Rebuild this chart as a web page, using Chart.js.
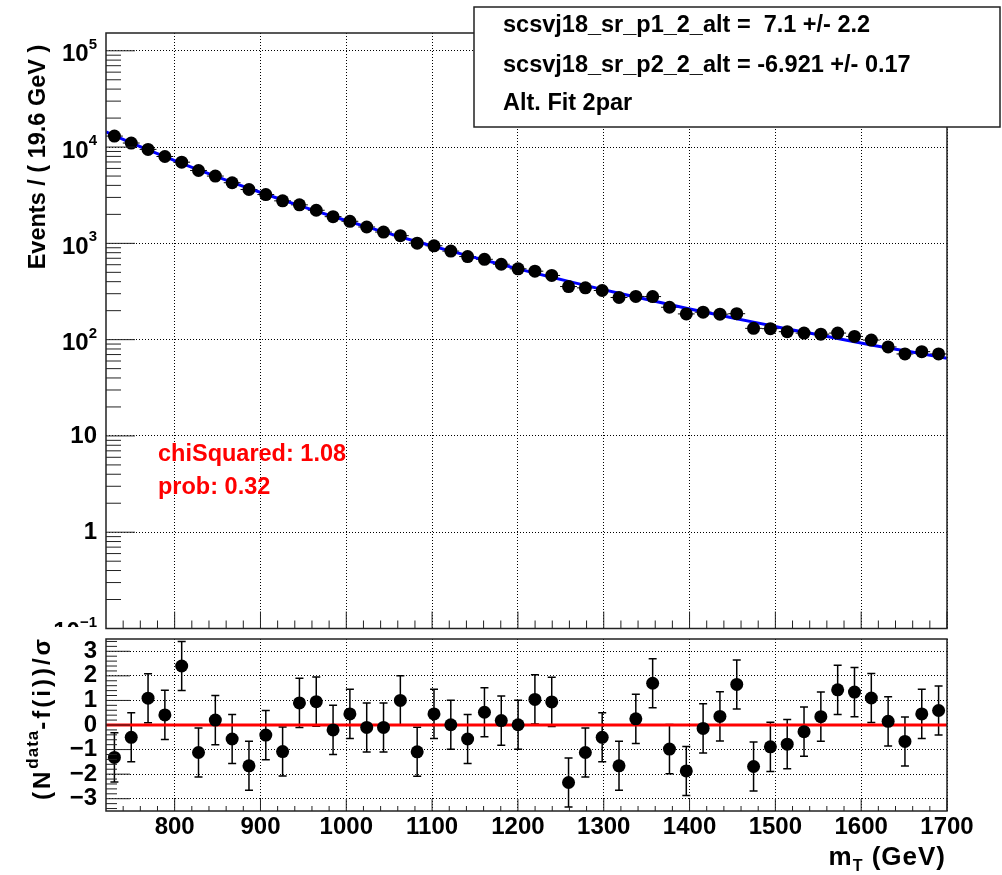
<!DOCTYPE html>
<html>
<head>
<meta charset="utf-8">
<script src="https://cdn.jsdelivr.net/npm/chart.js@4.4.1/dist/chart.umd.min.js"></script>
<style>
  body { margin: 0; background: #fff; }
  #wrap { position: relative; width: 1002px; height: 875px; }
  #wrap canvas { position: absolute; left: 0; top: 0; }
</style>
</head>
<body>
<div id="wrap">
  <canvas id="fitChart" width="1002" height="875"></canvas>
  <canvas id="pullChart" width="1002" height="875"></canvas>
</div>
<script>
// bin centres of m_T (GeV), 19.6 GeV bins from 720 to 1700
const binCenters = [729.8, 749.4, 769.0, 788.6, 808.2, 827.8, 847.4, 867.0, 886.6, 906.2,
  925.8, 945.4, 965.0, 984.6, 1004.2, 1023.8, 1043.4, 1063.0, 1082.6, 1102.2,
  1121.8, 1141.4, 1161.0, 1180.6, 1200.2, 1219.8, 1239.4, 1259.0, 1278.6, 1298.2,
  1317.8, 1337.4, 1357.0, 1376.6, 1396.2, 1415.8, 1435.4, 1455.0, 1474.6, 1494.2,
  1513.8, 1533.4, 1553.0, 1572.6, 1592.2, 1611.8, 1631.4, 1651.0, 1670.6, 1690.2];

// events per bin
const events = [12999, 11011, 9457, 7978, 6969, 5714, 4998, 4263, 3623, 3213,
  2763, 2511, 2206, 1893, 1695, 1479, 1311, 1202, 1005, 943,
  831, 729, 683, 607, 544, 514, 464, 356, 345, 324,
  274, 281, 280, 217, 185, 193, 184, 186, 131, 130,
  121, 117, 114, 117, 108, 99, 84, 71, 75, 71];
const eventErrors = [114, 105, 97, 89, 83, 76, 71, 65, 60, 57,
  53, 50, 47, 44, 41, 38, 36, 35, 32, 31,
  29, 27, 26, 25, 23, 23, 22, 19, 19, 18,
  17, 17, 17, 15, 14, 14, 14, 14, 11, 11,
  11, 11, 11, 11, 10, 10, 9, 8, 9, 8];

// fit curve (blue)
const fitMass = [720, ...binCenters, 1700];
const fitValues = [14360, 13150, 11064, 9352, 7941, 6771, 5799, 4984, 4300, 3724, 3236,
  2820, 2466, 2162, 1902, 1677, 1483, 1315, 1168, 1040, 929,
  831, 745, 669, 603, 543, 491, 445, 403, 366, 333,
  303, 277, 253, 232, 212, 195, 179, 165, 152, 140,
  129, 120, 111, 103, 95, 88, 82, 76.5, 71.3, 66.4, 64.2];

// pulls (N - f)/sigma
const pulls = [-1.32, -0.50, 1.09, 0.41, 2.40, -1.12, 0.20, -0.57, -1.66, -0.41,
  -1.08, 0.90, 0.95, -0.20, 0.45, -0.10, -0.10, 1.00, -1.09, 0.45,
  0.01, -0.57, 0.52, 0.18, 0.01, 1.04, 0.94, -2.34, -1.12, -0.50,
  -1.66, 0.25, 1.70, -0.98, -1.87, -0.14, 0.35, 1.65, -1.69, -0.89,
  -0.78, -0.27, 0.34, 1.43, 1.34, 1.10, 0.15, -0.67, 0.45, 0.59];
const pullError = 1;

const xTicks = [800, 900, 1000, 1100, 1200, 1300, 1400, 1500, 1600, 1700];
const yDecades = [0.1, 1, 10, 100, 1000, 10000, 100000];
const yDecadeLabels = [['10', '\u22121'], ['1', ''], ['10', ''], ['10', '2'], ['10', '3'], ['10', '4'], ['10', '5']];
const pullTicks = [-3, -2, -1, 0, 1, 2, 3];

const legendLines = ['scsvj18_sr_p1_2_alt =  7.1 +/- 2.2', 'scsvj18_sr_p2_2_alt = -6.921 +/- 0.17', 'Alt. Fit 2par'];
const fitStats = ['chiSquared: 1.08', 'prob: 0.32'];

const FONT = '"Liberation Sans", Arial, Helvetica, sans-serif';
const binHalf = 9.8;

function text(ctx, s, x, y, size, align, color) {
  ctx.font = 'bold ' + size + 'px ' + FONT;
  ctx.fillStyle = color || '#000';
  ctx.textAlign = align || 'left';
  ctx.textBaseline = 'middle';
  ctx.fillText(s, x, y);
}

function frame(ctx, a) {
  ctx.save();
  ctx.strokeStyle = '#222';
  ctx.lineWidth = 1.5;
  ctx.strokeRect(a.left, a.top, a.right - a.left, a.bottom - a.top);
  ctx.restore();
}

function xTickMarks(ctx, chart, majLen, minLen) {
  const a = chart.chartArea, x = chart.scales.x;
  ctx.beginPath();
  for (let v = 740; v <= 1700; v += 20) {
    const px = x.getPixelForValue(v);
    const len = v % 100 === 0 ? majLen : minLen;
    ctx.moveTo(px, a.bottom);
    ctx.lineTo(px, a.bottom - len);
  }
  ctx.stroke();
}

const grid = { color: '#000', lineWidth: 1, drawTicks: false };
const border = { display: false, dash: [1, 2] };

// top panel: events + fit
const fitDecor = {
  id: 'fitDecor',
  beforeDatasetsDraw(chart) {
    const ctx = chart.ctx, x = chart.scales.x, y = chart.scales.y;
    ctx.save();
    ctx.strokeStyle = '#000';
    ctx.lineWidth = 1;
    ctx.beginPath();
    binCenters.forEach((m, i) => {
      const px = x.getPixelForValue(m), py = y.getPixelForValue(events[i]);
      ctx.moveTo(x.getPixelForValue(m - binHalf), py);
      ctx.lineTo(x.getPixelForValue(m + binHalf), py);
      ctx.moveTo(px, y.getPixelForValue(events[i] - eventErrors[i]));
      ctx.lineTo(px, y.getPixelForValue(events[i] + eventErrors[i]));
    });
    ctx.stroke();
    ctx.restore();
  },
  afterDraw(chart) {
    const ctx = chart.ctx, a = chart.chartArea, y = chart.scales.y;
    ctx.save();
    frame(ctx, a);
    ctx.strokeStyle = '#222';
    ctx.lineWidth = 1;
    // y ticks
    ctx.beginPath();
    yDecades.forEach(d => {
      for (let k = 1; k <= 9; k++) {
        const v = d * k;
        if (v > y.max) break;
        const py = y.getPixelForValue(v);
        ctx.moveTo(a.left, py);
        ctx.lineTo(a.left + (k === 1 ? 29 : 15), py);
      }
    });
    ctx.stroke();
    xTickMarks(ctx, chart, 17, 8);

    // y labels
    yDecades.forEach((d, i) => {
      const py = y.getPixelForValue(d);
      const [base, exp] = yDecadeLabels[i];
      ctx.save();
      if (d < 1) { ctx.beginPath(); ctx.rect(0, 0, 1002, 627); ctx.clip(); }
      if (!exp) {
        text(ctx, base, 97, py, 24, 'right');
      } else {
        ctx.font = 'bold 15px ' + FONT;
        const ew = ctx.measureText(exp).width;
        text(ctx, exp, 97, py - 6, 15, 'right');
        text(ctx, base, 97 - ew, py + 4, 24, 'right');
      }
      ctx.restore();
    });

    // y title
    ctx.save();
    ctx.translate(39, 157);
    ctx.rotate(-Math.PI / 2);
    text(ctx, 'Events / ( 19.6 GeV )', 0, 0, 23.5, 'center');
    ctx.restore();

    // fit statistics
    text(ctx, fitStats[0], 158, 455, 23.5, 'left', '#ff0000');
    text(ctx, fitStats[1], 158, 488, 23.5, 'left', '#ff0000');

    // parameter box
    ctx.fillStyle = '#fff';
    ctx.fillRect(474, 7, 526, 120);
    ctx.strokeStyle = '#222';
    ctx.lineWidth = 1.5;
    ctx.strokeRect(474, 7, 526, 120);
    text(ctx, legendLines[0], 503, 26, 23.5);
    text(ctx, legendLines[1], 503, 66, 23.5);
    text(ctx, legendLines[2], 503, 104, 23.5);
    ctx.restore();
  }
};

new Chart(document.getElementById('fitChart'), {
  type: 'scatter',
  data: {
    datasets: [
      {
        label: 'data',
        data: binCenters.map((m, i) => ({ x: m, y: events[i] })),
        backgroundColor: '#000',
        borderColor: '#000',
        pointRadius: 6.5,
        borderWidth: 0
      },
      {
        label: 'fit',
        data: fitMass.map((m, i) => ({ x: m, y: fitValues[i] })),
        showLine: true,
        borderColor: '#0000ff',
        borderWidth: 3,
        pointRadius: 0,
        tension: 0
      }
    ]
  },
  options: {
    responsive: false,
    animation: false,
    events: [],
    layout: { padding: { left: 106, right: 55, top: 33, bottom: 246.5 } },
    plugins: { legend: { display: false }, tooltip: { enabled: false } },
    scales: {
      x: {
        type: 'linear', min: 720, max: 1700,
        afterBuildTicks: s => { s.ticks = xTicks.map(v => ({ value: v })); },
        ticks: { display: false }, grid, border
      },
      y: {
        type: 'logarithmic', min: 0.1, max: 153000,
        afterBuildTicks: s => { s.ticks = yDecades.map(v => ({ value: v })); },
        ticks: { display: false }, grid, border
      }
    }
  },
  plugins: [fitDecor]
});

// bottom panel: pulls
const pullDecor = {
  id: 'pullDecor',
  beforeDatasetsDraw(chart) {
    const ctx = chart.ctx, a = chart.chartArea, x = chart.scales.x, y = chart.scales.y;
    ctx.save();
    ctx.beginPath();
    ctx.rect(a.left, a.top, a.right - a.left, a.bottom - a.top);
    ctx.clip();
    ctx.strokeStyle = '#000';
    ctx.lineWidth = 1.5;
    ctx.beginPath();
    binCenters.forEach((m, i) => {
      const px = x.getPixelForValue(m);
      const lo = y.getPixelForValue(pulls[i] - pullError), hi = y.getPixelForValue(pulls[i] + pullError);
      ctx.moveTo(px, lo); ctx.lineTo(px, hi);
      ctx.moveTo(px - 4, lo); ctx.lineTo(px + 4, lo);
      ctx.moveTo(px - 4, hi); ctx.lineTo(px + 4, hi);
    });
    ctx.stroke();
    ctx.restore();
  },
  afterDraw(chart) {
    const ctx = chart.ctx, a = chart.chartArea, x = chart.scales.x, y = chart.scales.y;
    ctx.save();
    frame(ctx, a);
    ctx.strokeStyle = '#222';
    ctx.lineWidth = 1;
    ctx.beginPath();
    for (let k = -17; k <= 17; k++) {
      const py = y.getPixelForValue(k * 0.2);
      ctx.moveTo(a.left, py);
      ctx.lineTo(a.left + (k % 5 === 0 ? 24 : 11), py);
    }
    ctx.stroke();
    xTickMarks(ctx, chart, 12, 5);

    pullTicks.forEach(v => {
      const s = v < 0 ? '\u2212' + Math.abs(v) : String(v);
      text(ctx, s, 97, y.getPixelForValue(v), 24, 'right');
    });
    xTicks.forEach(v => text(ctx, String(v), x.getPixelForValue(v), 827, 24, 'center'));

    // x title  m_T (GeV)
    ctx.save();
    ctx.letterSpacing = '1px';
    ctx.font = 'bold 26px ' + FONT;
    const w1 = ctx.measureText('m').width;
    const w3 = ctx.measureText(' (GeV)').width;
    ctx.font = 'bold 16px ' + FONT;
    const w2 = ctx.measureText('T').width;
    const sx = 946 - (w1 + w2 + w3);
    text(ctx, 'm', sx, 858, 26);
    text(ctx, 'T', sx + w1, 867, 16);
    text(ctx, ' (GeV)', sx + w1 + w2, 858, 26);
    ctx.restore();

    // y title  (N^data-f(i))/sigma
    ctx.save();
    ctx.translate(43, 718);
    ctx.rotate(-Math.PI / 2);
    ctx.letterSpacing = '3px';
    ctx.font = 'bold 24px ' + FONT;
    const p1 = ctx.measureText('(N').width, p3 = ctx.measureText('-f(i))/\u03c3').width;
    ctx.letterSpacing = '1px';
    ctx.font = 'bold 17px ' + FONT;
    const p2 = ctx.measureText('data').width;
    const tx = -(p1 + p2 + p3) / 2;
    ctx.letterSpacing = '3px';
    text(ctx, '(N', tx, 0, 24);
    ctx.letterSpacing = '1px';
    text(ctx, 'data', tx + p1, -10, 17);
    ctx.letterSpacing = '3px';
    text(ctx, '-f(i))/\u03c3', tx + p1 + p2, 0, 24);
    ctx.restore();
    ctx.restore();
  }
};

new Chart(document.getElementById('pullChart'), {
  type: 'scatter',
  data: {
    datasets: [
      {
        label: 'pull',
        data: binCenters.map((m, i) => ({ x: m, y: pulls[i] })),
        backgroundColor: '#000',
        borderColor: '#000',
        pointRadius: 6.5,
        borderWidth: 0
      },
      {
        label: 'zero',
        data: [{ x: 720, y: 0 }, { x: 1700, y: 0 }],
        showLine: true,
        borderColor: '#ff0000',
        borderWidth: 3,
        pointRadius: 0
      }
    ]
  },
  options: {
    responsive: false,
    animation: false,
    events: [],
    layout: { padding: { left: 106, right: 55, top: 639, bottom: 64 } },
    plugins: { legend: { display: false }, tooltip: { enabled: false } },
    scales: {
      x: {
        type: 'linear', min: 720, max: 1700,
        afterBuildTicks: s => { s.ticks = xTicks.map(v => ({ value: v })); },
        ticks: { display: false }, grid, border
      },
      y: {
        type: 'linear', min: -3.5, max: 3.5,
        afterBuildTicks: s => { s.ticks = pullTicks.map(v => ({ value: v })); },
        ticks: { display: false }, grid, border
      }
    }
  },
  plugins: [pullDecor]
});
</script>
</body>
</html>
